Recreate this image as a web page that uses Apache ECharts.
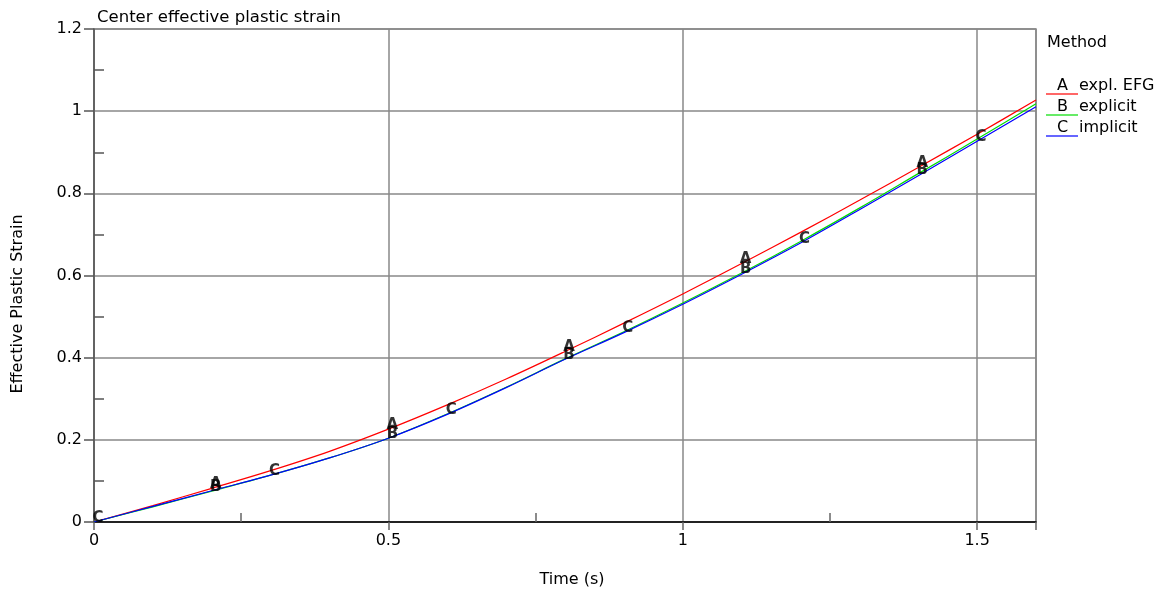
<!DOCTYPE html>
<html><head><meta charset="utf-8">
<script src="https://cdn.jsdelivr.net/npm/echarts@6/dist/echarts.min.js"></script>
<style>html,body{margin:0;padding:0;background:#fff}#c{width:1167px;height:594px}</style>
</head><body><div id="c"></div>
<script>
const times = [0,0.1,0.2,0.3,0.4,0.5,0.6,0.7,0.8,0.9,1.0,1.1,1.2,1.3,1.4,1.5,1.6];
const explEFG = [0,0.040,0.082,0.125,0.172,0.226,0.285,0.348,0.415,0.484,0.555,0.629,0.705,0.783,0.863,0.944,1.027];
const explicitV = [0,0.037,0.075,0.114,0.156,0.204,0.263,0.328,0.397,0.463,0.533,0.606,0.683,0.764,0.848,0.932,1.018];
const implicitV = [0,0.038,0.076,0.114,0.156,0.204,0.262,0.327,0.396,0.461,0.530,0.603,0.679,0.760,0.843,0.927,1.011];
const seriesNames = ['expl. EFG','explicit','implicit'];
const letters = ['A','B','C'];
const colors = ['#ff0000','#00dd00','#0000ff'];
const markIdxAB = [2,5,8,11,14];
const markIdxC = [0,3,6,9,12,15];
const titleText = 'Center effective plastic strain';
const xName = 'Time (s)';
const yName = 'Effective Plastic Strain';
const FONT = 'DejaVu Sans';

const values = [explEFG, explicitV, implicitV];
const markIdx = [markIdxAB, markIdxAB, markIdxC];

const series = [];
values.forEach((v,i)=>{
  series.push({type:'line', name:seriesNames[i], data:times.map((t,k)=>[t,v[k]]),
    smooth:0.35, showSymbol:false, symbol:'none', lineStyle:{color:colors[i], width:1.2}, z:2+i, silent:true});
});
values.forEach((v,i)=>{
  series.push({type:'scatter', data:markIdx[i].map(k=>[times[k],v[k]]), symbolSize:0, z:10,
    label:{show:true, formatter:letters[i], position:'inside', offset:[4,-4], color:'#000',
      fontFamily:FONT, fontSize:15, fontWeight:'bold'}, silent:true});
});

const graphic = [
  {type:'text', left:1047, top:35, style:{text:'Method', font:'16px '+FONT, fill:'#000'}},
  {type:'text', x:18, y:304, rotation:Math.PI/2, style:{text:yName, font:'16px '+FONT, fill:'#000', align:'center', verticalAlign:'middle'}},
  {type:'text', x:572, y:580, style:{text:xName, font:'16px '+FONT, fill:'#000', align:'center', verticalAlign:'middle'}}
];
seriesNames.forEach((n,i)=>{
  const y = 78 + i*21;
  graphic.push({type:'line', shape:{x1:1046,y1:y+16,x2:1078,y2:y+16}, style:{stroke:colors[i], lineWidth:1.2}});
  graphic.push({type:'text', left:1057, top:y, style:{text:letters[i], font:'16px '+FONT, fill:'#000'}});
  graphic.push({type:'text', left:1079, top:y, style:{text:n, font:'16px '+FONT, fill:'#000'}});
});

const chart = echarts.init(document.getElementById('c'));
chart.setOption({
  animation:false,
  title:{text:titleText, left:92, top:4,
    textStyle:{fontFamily:FONT, fontSize:16.5, fontWeight:'normal', color:'#000'}},
  grid:{left:94, right:131, top:29, bottom:72, show:true, borderColor:'#888', borderWidth:1.5},
  xAxis:{type:'value', min:0, max:1.6, interval:0.5,
    axisLine:{show:true, onZero:false, lineStyle:{color:'#000', width:1.5}},
    axisTick:{show:true, length:8, lineStyle:{color:'#666', width:1.5}},
    minorTick:{show:true, splitNumber:2, length:-9, lineStyle:{color:'#666', width:1.5}},
    axisLabel:{fontFamily:FONT, fontSize:16, color:'#000', margin:11, showMaxLabel:false},
    splitLine:{show:true, lineStyle:{color:'#888', width:1.5}}},
  yAxis:{type:'value', min:0, max:1.2, interval:0.2,
    axisLine:{show:true, onZero:false, lineStyle:{color:'#555', width:1.5}},
    axisTick:{show:true, length:10, lineStyle:{color:'#555', width:1.5}},
    minorTick:{show:true, splitNumber:2, length:-10, lineStyle:{color:'#555', width:1.5}},
    axisLabel:{fontFamily:FONT, fontSize:16, color:'#000', margin:12,
      formatter:v=>String(Math.round(v*10)/10)},
    splitLine:{show:true, lineStyle:{color:'#888', width:1.5}}},
  series:series,
  graphic:graphic
});
</script></body></html>
